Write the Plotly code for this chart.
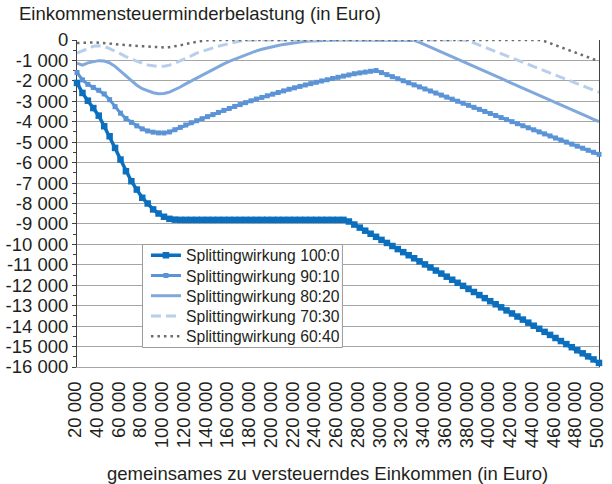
import plotly.graph_objects as go

# Gemeinsames zu versteuerndes Einkommen (Euro), Schritte zu 5 000 Euro
einkommen = list(range(20000, 500001, 5000))

# Einkommensteuerminderbelastung je Aufteilung des Einkommens (Euro)
split_100_0 = [
    -2100, -2590, -2970, -3330, -3700, -4220, -4710, -5280, -5850, -6420,
    -6910, -7320, -7720, -8000, -8290, -8490, -8650, -8750, -8790, -8800,
    -8800, -8800, -8800, -8800, -8800, -8800, -8800, -8800, -8800, -8800,
    -8800, -8800, -8800, -8800, -8800, -8800, -8800, -8800, -8800, -8800,
    -8800, -8800, -8800, -8800, -8800, -8800, -8800, -8800, -8800, -8800,
    -8880, -9030, -9180, -9330, -9480, -9630, -9780, -9930, -10080, -10230,
    -10380, -10530, -10680, -10830, -10980, -11130, -11280, -11430, -11580, -11730,
    -11880, -12030, -12180, -12330, -12480, -12630, -12780, -12930, -13080, -13230,
    -13380, -13530, -13680, -13830, -13980, -14130, -14280, -14430, -14580, -14730,
    -14880, -15030, -15180, -15330, -15480, -15630, -15800,
]
split_90_10 = [
    -1590, -1950, -2170, -2320, -2460, -2640, -2920, -3260, -3580, -3840,
    -4030, -4200, -4350, -4450, -4510, -4545, -4550, -4500, -4390, -4275,
    -4160, -4050, -3950, -3850, -3750, -3650, -3545, -3445, -3350, -3250,
    -3160, -3065, -2975, -2890, -2810, -2730, -2650, -2570, -2490, -2410,
    -2340, -2270, -2200, -2135, -2070, -2005, -1945, -1885, -1825, -1765,
    -1710, -1650, -1610, -1570, -1530, -1495, -1595, -1695, -1795, -1895,
    -1995, -2095, -2195, -2295, -2395, -2495, -2595, -2695, -2795, -2895,
    -2995, -3095, -3195, -3295, -3395, -3495, -3595, -3695, -3795, -3895,
    -3995, -4095, -4195, -4295, -4395, -4495, -4595, -4695, -4795, -4895,
    -4995, -5095, -5195, -5295, -5395, -5495, -5595,
]
split_80_20 = [
    -1130, -1230, -1120, -1050, -1010, -1030, -1120, -1290, -1520, -1770,
    -2000, -2210, -2380, -2500, -2580, -2625, -2620, -2550, -2440, -2300,
    -2150, -2010, -1860, -1710, -1560, -1420, -1290, -1170, -1050, -940,
    -830, -730, -630, -530, -450, -380, -320, -265, -215, -170,
    -130, -95, -65, -45, -30, -20, -10, -5, 0, 0,
    0, 0, 0, 0, 0, 0, 0, 0, 0, 0,
    0, 0, -20, -120, -235, -350, -470, -590, -705, -820,
    -940, -1060, -1175, -1295, -1410, -1530, -1645, -1765, -1880, -2000,
    -2115, -2235, -2350, -2470, -2585, -2705, -2820, -2940, -3055, -3175,
    -3290, -3410, -3525, -3645, -3760, -3880, -4000,
]
split_70_30 = [
    -640, -520, -400, -310, -280, -320, -420, -560, -690, -810,
    -930, -1040, -1140, -1220, -1275, -1295, -1280, -1230, -1140, -1030,
    -910, -780, -640, -550, -460, -380, -305, -240, -170, -90,
    -45, -15, 0, 0, 0, 0, 0, 0, 0, 0,
    0, 0, 0, 0, 0, 0, 0, 0, 0, 0,
    0, 0, 0, 0, 0, 0, 0, 0, 0, 0,
    0, 0, 0, 0, 0, 0, 0, 0, 0, 0,
    0, 0, -40, -145, -250, -355, -460, -565, -670, -775,
    -880, -985, -1090, -1195, -1300, -1405, -1510, -1615, -1720, -1825,
    -1930, -2035, -2140, -2245, -2350, -2455, -2560,
]
split_60_40 = [
    -150, -130, -120, -120, -130, -160, -185, -205, -225, -250,
    -270, -290, -310, -330, -350, -360, -365, -350, -320, -260,
    -195, -140, -90, -45, -15, 0, 0, 0, 0, 0,
    0, 0, 0, 0, 0, 0, 0, 0, 0, 0,
    0, 0, 0, 0, 0, 0, 0, 0, 0, 0,
    0, 0, 0, 0, 0, 0, 0, 0, 0, 0,
    0, 0, 0, 0, 0, 0, 0, 0, 0, 0,
    0, 0, 0, 0, 0, 0, 0, 0, 0, 0,
    0, 0, 0, 0, 0, 0, -60, -160, -255, -355,
    -450, -550, -650, -745, -845, -940, -1040,
]

serien_namen = [
    "Splittingwirkung 100:0",
    "Splittingwirkung 90:10",
    "Splittingwirkung 80:20",
    "Splittingwirkung 70:30",
    "Splittingwirkung 60:40",
]

# Achsenbeschriftungen
x_ticks = list(range(20000, 500001, 20000))
x_labels = ["20 000", "40 000", "60 000", "80 000", "100 000", "120 000", "140 000",
            "160 000", "180 000", "200 000", "220 000", "240 000", "260 000", "280 000",
            "300 000", "320 000", "340 000", "360 000", "380 000", "400 000", "420 000",
            "440 000", "460 000", "480 000", "500 000"]
y_ticks = list(range(0, -16001, -1000))
y_labels = ["0", "-1 000", "-2 000", "-3 000", "-4 000", "-5 000", "-6 000", "-7 000",
            "-8 000", "-9 000", "-10 000", "-11 000", "-12 000", "-13 000", "-14 000",
            "-15 000", "-16 000"]

FONT = "Liberation Sans, Arial, Helvetica, sans-serif"
TEXT = "#231f20"
FS = 18.5

# Plotbereich in Pixeln (für die Platzierung der Legende)
W, H = 612, 484
ML, MR, MT, MB = 77, 5, 40, 117
PW, PH = W - ML - MR, H - MT - MB


def px_x(px):
    return (px - ML) / PW


def px_y(py):
    return (H - MB - py) / PH


# Stile der fünf Reihen
stile = [
    dict(mode="lines+markers", line=dict(color="#0B6FBE", width=3.5),
         marker=dict(symbol="square", size=6.5, color="#0B6FBE")),
    dict(mode="lines+markers", line=dict(color="#5A93D6", width=3),
         marker=dict(symbol="square", size=5, color="#5A93D6")),
    dict(mode="lines", line=dict(color="#7FA8DC", width=3)),
    dict(mode="lines", line=dict(color="#B8CFEC", width=3, dash="10px,5px")),
    dict(mode="lines", line=dict(color="#6B6B6B", width=2.5, dash="2.5px,4px")),
]
reihen = [split_100_0, split_90_10, split_80_20, split_70_30, split_60_40]
legenden = ["legend", "legend2", "legend3", "legend4", "legend5"]

fig = go.Figure()
for name, werte, stil, leg in zip(serien_namen, reihen, stile, legenden):
    fig.add_trace(go.Scatter(x=einkommen, y=werte, name=name, legend=leg,
                             cliponaxis=False, **stil))

# Je Eintrag eine eigene Legende, damit die Zeilen eng untereinander stehen
zeilen_py = [255.5, 275.8, 296.0, 316.3, 336.5]
legend_layout = {}
for leg, py in zip(legenden, zeilen_py):
    legend_layout[leg] = dict(
        x=px_x(147), y=px_y(py), xanchor="left", yanchor="middle",
        bgcolor="rgba(0,0,0,0)", borderwidth=0,
        font=dict(family=FONT, size=15.7, color=TEXT), itemwidth=30,
    )

fig.update_layout(
    width=W, height=H,
    margin=dict(l=ML, r=MR, t=MT, b=MB, pad=0),
    paper_bgcolor="white", plot_bgcolor="white",
    font=dict(family=FONT, size=FS, color=TEXT),
    showlegend=True,
    xaxis=dict(
        range=[20000, 500000], tickmode="array", tickvals=x_ticks, ticktext=x_labels,
        tickangle=-90, showgrid=False, zeroline=False,
        showline=True, linecolor="#A6A6A6", linewidth=1,
        ticks="outside", ticklen=6, tickcolor="rgba(0,0,0,0)",
        ticklabeloverflow="allow", ticklabelshift=-2,
        tickfont=dict(family=FONT, size=FS, color=TEXT),
    ),
    xaxis2=dict(
        range=[20000, 500000], overlaying="x", side="top", anchor="y",
        showline=True, linecolor="#404040", linewidth=1,
        ticks="outside", ticklen=3, tickcolor="#404040", tickwidth=1,
        tickmode="linear", tick0=20000, dtick=10000,
        showticklabels=False, showgrid=False, zeroline=False,
        layer="below traces",
    ),
    yaxis=dict(
        range=[-16000, 0], tickmode="array", tickvals=y_ticks, ticktext=y_labels,
        showgrid=True, gridcolor="#A6A6A6", gridwidth=1, zeroline=False,
        showline=True, linecolor="#404040", linewidth=1, mirror=True,
        ticks="outside", ticklen=4, tickcolor="#404040", tickwidth=1,
        minor=dict(tickvals=list(range(-15500, 0, 1000)), ticks="outside",
                   ticklen=3, tickcolor="#404040", showgrid=False),
        tickfont=dict(family=FONT, size=FS, color=TEXT),
        layer="below traces",
    ),
    shapes=[
        # Legendenrahmen
        dict(type="rect", xref="paper", yref="paper",
             x0=px_x(143.5), x1=px_x(346.5), y0=px_y(347.5), y1=px_y(244.5),
             line=dict(color="#9A9A9A", width=1), fillcolor="white", layer="above"),
    ],
    annotations=[
        dict(text="Einkommensteuerminderbelastung (in Euro)", xref="paper", yref="paper",
             x=px_x(16), y=px_y(14), xanchor="left", yanchor="middle", showarrow=False,
             font=dict(family=FONT, size=FS, color=TEXT)),
        dict(text="gemeinsames zu versteuerndes Einkommen (in Euro)", xref="paper",
             yref="paper", x=px_x(331), y=px_y(473), xanchor="center", yanchor="middle",
             showarrow=False, font=dict(family=FONT, size=FS, color=TEXT)),
    ],
    **legend_layout,
)

fig.write_html("out.html")
